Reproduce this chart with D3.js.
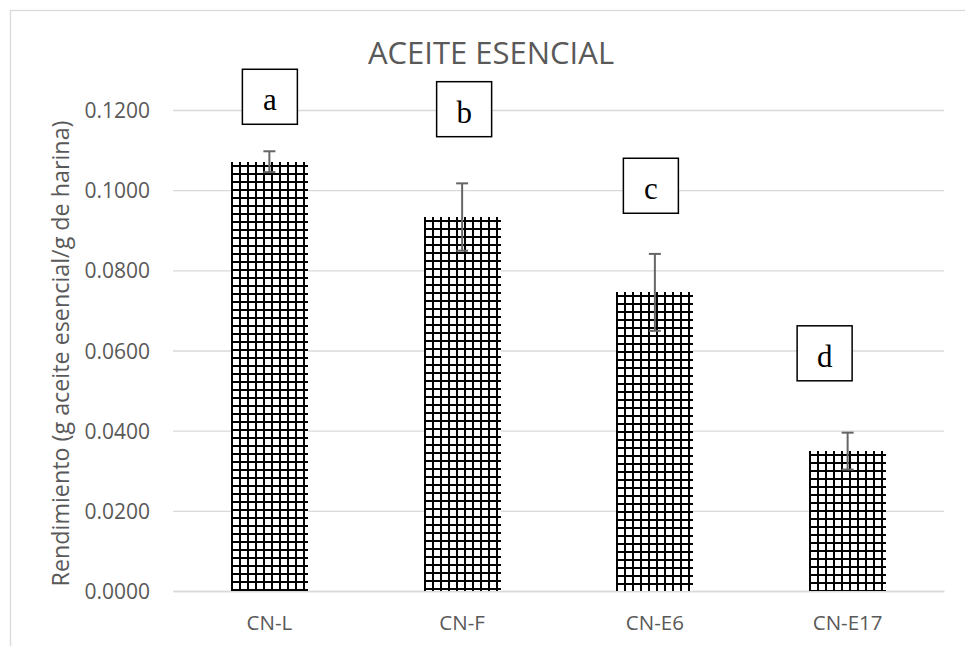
<!DOCTYPE html>
<html>
<head>
<meta charset="utf-8">
<script src="https://cdn.jsdelivr.net/npm/d3@7"></script>
<style>
  html, body { margin: 0; padding: 0; background: #fff; }
  svg { display: block; }
  text { font-family: "Open Sans", "Noto Sans", sans-serif; }
</style>
</head>
<body>
<svg id="chart" width="965" height="646"></svg>
<script>
// Essential-oil yield per flour sample
const categories = ["CN-L", "CN-F", "CN-E6", "CN-E17"];
const yieldMean  = [0.1071, 0.0933, 0.0745, 0.0349];
const yieldError = [0.0026, 0.0084, 0.0096, 0.0046];
const groupLetters = ["a", "b", "c", "d"];
// height (in yield units) where each significance letter box is centred
const letterLevel = [0.1233, 0.1202, 0.1011, 0.0593];
const yTicks = [0, 0.02, 0.04, 0.06, 0.08, 0.10, 0.12];

const chartTitle = "ACEITE ESENCIAL";
const yTitle = "Rendimiento (g aceite esencial/g de harina)";

// layout
const plot = { left: 173, right: 944, top: 110, bottom: 591 };
const letterShift = [0.5, 2, -4, -23];   // horizontal nudge of each letter box, px
const boxSize = 55;
const textGrey = "#595959";
const gridGrey = "#d9d9d9";

const svg = d3.select("#chart");

// chart frame
svg.append("rect")
  .attr("x", 10.5).attr("y", 10.5)
  .attr("width", 1000).attr("height", 700)
  .attr("fill", "#fff").attr("stroke", gridGrey).attr("stroke-width", 1.3);

const x = d3.scaleBand().domain(categories).range([plot.left, plot.right]).padding(0);
const y = d3.scaleLinear().domain([0, 0.12]).range([plot.bottom, plot.top]);
const barW = Math.round(x.bandwidth() / 2.5);
const barX = c => Math.round(x(c) + (x.bandwidth() - barW) / 2);

// value axis with horizontal gridlines
const yAxis = svg.append("g")
  .attr("transform", `translate(${plot.left},0)`)
  .call(d3.axisLeft(y)
    .tickValues(yTicks)
    .tickFormat(d3.format(".4f"))
    .tickSize(-(plot.right - plot.left))
    .tickPadding(23));
yAxis.select(".domain").remove();
yAxis.selectAll(".tick line").attr("stroke", gridGrey).attr("stroke-width", 1.3);
yAxis.selectAll(".tick text")
  .attr("fill", textGrey).style("font-size", "21px").attr("dy", "0.36em");

// category axis
const xAxis = svg.append("g")
  .attr("transform", `translate(0,${plot.bottom})`)
  .call(d3.axisBottom(x).tickSize(0).tickSizeOuter(0).tickPadding(24));
xAxis.select(".domain").attr("stroke", gridGrey).attr("stroke-width", 1.3);
xAxis.selectAll(".tick text").attr("fill", textGrey).style("font-size", "20.5px");

// grid hatch fill, one pattern per bar so the grid starts at each bar's edge
const defs = svg.append("defs");
categories.forEach((c, i) => {
  const p = defs.append("pattern")
    .attr("id", "hatch" + i)
    .attr("patternUnits", "userSpaceOnUse")
    .attr("x", barX(c)).attr("y", Math.round(y(yieldMean[i])) + 3)
    .attr("width", 8).attr("height", 8);
  p.append("rect").attr("width", 8).attr("height", 8).attr("fill", "#fff");
  p.append("rect").attr("x", 0).attr("y", 0).attr("width", 2).attr("height", 8).attr("fill", "#000");
  p.append("rect").attr("x", 0).attr("y", 0).attr("width", 8).attr("height", 2).attr("fill", "#000");
});

// bars
svg.append("g").selectAll("rect")
  .data(categories)
  .join("rect")
  .attr("x", c => barX(c))
  .attr("y", (c, i) => Math.round(y(yieldMean[i])))
  .attr("width", barW)
  .attr("height", (c, i) => y(0) - Math.round(y(yieldMean[i])))
  .attr("fill", (c, i) => `url(#hatch${i})`);

// error bars
const err = svg.append("g").attr("stroke", "#666").attr("stroke-width", 2).attr("fill", "none");
categories.forEach((c, i) => {
  const cx = x(c) + x.bandwidth() / 2;
  const hi = y(yieldMean[i] + yieldError[i]);
  const lo = y(yieldMean[i] - yieldError[i]);
  err.append("line").attr("x1", cx).attr("x2", cx).attr("y1", hi).attr("y2", lo);
  err.append("line").attr("x1", cx - 6).attr("x2", cx + 6).attr("y1", hi).attr("y2", hi);
  err.append("line").attr("x1", cx - 6).attr("x2", cx + 6).attr("y1", lo).attr("y2", lo);
});

// significance letters in boxes
const boxes = svg.append("g");
categories.forEach((c, i) => {
  const cx = x(c) + x.bandwidth() / 2 + letterShift[i];
  const top = y(letterLevel[i]) - boxSize / 2;
  boxes.append("rect")
    .attr("x", cx - boxSize / 2).attr("y", top)
    .attr("width", boxSize).attr("height", boxSize)
    .attr("fill", "#fff").attr("stroke", "#000").attr("stroke-width", 1.5);
  boxes.append("text")
    .attr("x", cx).attr("y", top + 41)
    .attr("text-anchor", "middle")
    .style("font-family", "'Liberation Serif', 'DejaVu Serif', serif")
    .style("font-size", "31px")
    .attr("fill", "#000")
    .text(groupLetters[i]);
});

// titles
svg.append("text")
  .attr("x", 491).attr("y", 64)
  .attr("text-anchor", "middle")
  .attr("fill", textGrey).style("font-size", "31px")
  .text(chartTitle);

svg.append("text")
  .attr("transform", `translate(69,${(plot.top + plot.bottom) / 2 + 3}) rotate(-90)`)
  .attr("text-anchor", "middle")
  .attr("fill", textGrey).style("font-size", "23.3px")
  .text(yTitle);
</script>
</body>
</html>
